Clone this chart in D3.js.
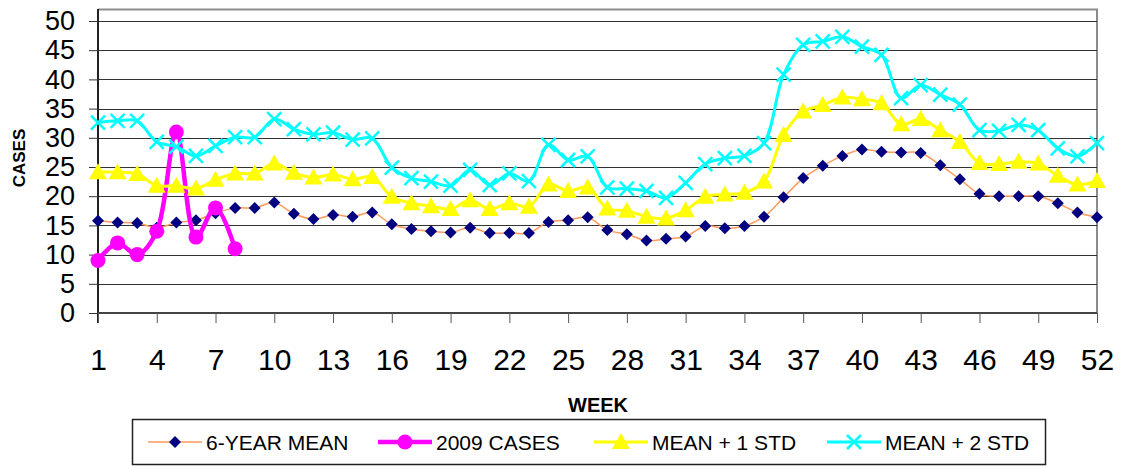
<!DOCTYPE html>
<html>
<head>
<meta charset="utf-8">
<script src="https://cdn.jsdelivr.net/npm/d3@7"></script>
<style>
  html, body { margin: 0; padding: 0; background: #fff; }
  svg text { font-family: "Liberation Sans", Arial, sans-serif; }
</style>
</head>
<body>
<svg id="chart" width="1122" height="466"></svg>
<script>
// weeks 1..52
const weeks = d3.range(1, 53);
const xTickWeeks = [1, 4, 7, 10, 13, 16, 19, 22, 25, 28, 31, 34, 37, 40, 43, 46, 49, 52];
const yTicks = [0, 5, 10, 15, 20, 25, 30, 35, 40, 45, 50];

const sixYearMean = [
    15.8, 15.5, 15.4, 14.6, 15.5, 15.9, 17.1, 18.0, 18.0, 18.9,
    17.0, 16.1, 16.8, 16.5, 17.2, 15.2, 14.4, 14.0, 13.8, 14.6,
    13.7, 13.7, 13.7, 15.6, 15.9, 16.4, 14.2, 13.5, 12.4, 12.7,
    13.1, 14.9, 14.5, 14.9, 16.5, 19.8, 23.1, 25.2, 26.9, 28.0,
    27.6, 27.5, 27.4, 25.3, 22.9, 20.4, 20.0, 20.0, 20.0, 18.8,
    17.2, 16.4
];
const cases2009 = [9, 12, 10, 14, 31, 13, 18, 11];
const meanPlus1 = [
    24.1, 24.1, 23.8, 21.8, 21.8, 21.3, 22.8, 23.9, 23.9, 25.6,
    24.0, 23.2, 23.7, 22.9, 23.3, 19.9, 18.8, 18.3, 17.8, 19.3,
    17.8, 18.8, 18.2, 22.0, 20.9, 21.5, 17.9, 17.5, 16.5, 16.2,
    17.6, 19.9, 20.3, 20.6, 22.5, 30.5, 34.5, 35.6, 36.9, 36.6,
    35.9, 32.3, 33.2, 31.3, 29.3, 25.7, 25.5, 25.9, 25.6, 23.5,
    22.0, 22.6
];
const meanPlus2 = [
    32.6, 32.9, 32.9, 29.3, 28.5, 26.9, 28.6, 30.1, 30.1, 33.2,
    31.5, 30.6, 30.9, 29.7, 29.9, 24.9, 23.1, 22.5, 21.8, 24.5,
    21.9, 23.9, 22.6, 28.8, 26.2, 26.8, 21.5, 21.3, 20.9, 19.7,
    22.3, 25.5, 26.5, 26.9, 29.1, 40.8, 45.9, 46.5, 47.3, 45.6,
    44.2, 36.8, 39.0, 37.4, 35.7, 31.3, 31.2, 32.2, 31.3, 28.2,
    26.8, 29.1
];

const series = [
    { name: "6-YEAR MEAN", values: sixYearMean, line: "#ff9a5c", width: 1.5, marker: "diamond", fill: "#000080" },
    { name: "2009 CASES", values: cases2009, line: "#ff00ff", width: 4.5, marker: "circle", fill: "#ff00ff" },
    { name: "MEAN + 1 STD", values: meanPlus1, line: "#ffff00", width: 3, marker: "triangle", fill: "#ffff00" },
    { name: "MEAN + 2 STD", values: meanPlus2, line: "#00ffff", width: 3, marker: "cross", fill: "#00ffff" }
];

const svg = d3.select("#chart");
const x = d3.scaleLinear().domain([1, 52]).range([98, 1097]);
const y = d3.scaleLinear().domain([0, 50]).range([313, 21]);

// frame (top / right gray)
svg.append("path")
    .attr("d", `M${x(1)},9.5H${x(52)}V${y(0)}`)
    .attr("fill", "none")
    .attr("stroke", "#8c8c8c")
    .attr("stroke-width", 2);

// gridlines
svg.append("g")
    .selectAll("line")
    .data(yTicks.filter(d => d > 0))
    .join("line")
    .attr("x1", x(1))
    .attr("x2", x(52))
    .attr("y1", d => Math.round(y(d)) + 0.5)
    .attr("y2", d => Math.round(y(d)) + 0.5)
    .attr("stroke", "#333")
    .attr("stroke-width", 1);

// y axis
const yAxis = svg.append("g")
    .attr("transform", `translate(${x(1)},0)`)
    .call(d3.axisLeft(y).tickValues(yTicks).tickSize(9).tickPadding(14));
yAxis.select(".domain").attr("d", `M0,9V${y(0) + 10}`).attr("stroke", "#222").attr("stroke-width", 2);
yAxis.selectAll(".tick line").attr("stroke", "#333");
yAxis.selectAll(".tick text")
    .attr("font-size", 27)
    .attr("fill", "#000")
    .style("font-family", '"Liberation Sans", Arial, sans-serif');

// x axis
const xAxis = svg.append("g")
    .attr("transform", `translate(0,${y(0)})`)
    .call(d3.axisBottom(x).tickValues(xTickWeeks).tickFormat(d3.format("d")).tickSize(10).tickPadding(26));
xAxis.select(".domain").attr("d", `M${x(1)},0H${x(52)}`).attr("stroke", "#444").attr("stroke-width", 2);
xAxis.selectAll(".tick line").attr("stroke", "#555");
xAxis.selectAll(".tick text")
    .attr("font-size", 30)
    .attr("fill", "#000")
    .style("font-family", '"Liberation Sans", Arial, sans-serif');

// axis titles
svg.append("text")
    .attr("transform", `translate(25,158) rotate(-90)`)
    .attr("text-anchor", "middle")
    .attr("font-size", 17)
    .attr("font-weight", "bold")
    .text("CASES");
svg.append("text")
    .attr("x", 598)
    .attr("y", 412)
    .attr("text-anchor", "middle")
    .attr("font-size", 20)
    .attr("font-weight", "bold")
    .text("WEEK");

const drawMarker = (sel, s) => {
    if (s.marker === "diamond") {
        sel.append("path").attr("d", "M0,-6L6,0L0,6L-6,0Z").attr("fill", s.fill);
    } else if (s.marker === "circle") {
        sel.append("circle").attr("r", 7.5).attr("fill", s.fill);
    } else if (s.marker === "triangle") {
        sel.append("path").attr("d", "M0,-9L9,7L-9,7Z").attr("fill", s.fill);
    } else {
        sel.append("path").attr("d", "M-7,-7L7,7M7,-7L-7,7").attr("stroke", s.fill).attr("stroke-width", 2.5);
    }
};

const line = d3.line()
    .x((d, i) => x(weeks[i]))
    .y(d => y(d))
    .curve(d3.curveCatmullRom);

series.forEach(s => {
    const g = svg.append("g");
    g.append("path")
        .attr("d", line(s.values))
        .attr("fill", "none")
        .attr("stroke", s.line)
        .attr("stroke-width", s.width);
    g.selectAll(".m")
        .data(s.values)
        .join("g")
        .attr("class", "m")
        .attr("transform", (d, i) => `translate(${x(weeks[i])},${y(d)})`)
        .each(function () { drawMarker(d3.select(this), s); });
});

// legend
const legend = svg.append("g");
legend.append("rect")
    .attr("x", 132.5).attr("y", 419.5)
    .attr("width", 913).attr("height", 45)
    .attr("fill", "#fff")
    .attr("stroke", "#222")
    .attr("stroke-width", 1.5);
const legendX = [148, 378, 594, 827];
series.forEach((s, i) => {
    const g = legend.append("g").attr("transform", `translate(${legendX[i]},442)`);
    g.append("line")
        .attr("x1", 0).attr("x2", 54)
        .attr("stroke", s.line)
        .attr("stroke-width", s.width);
    drawMarker(g.append("g").attr("transform", "translate(27,0)"), s);
    g.append("text")
        .attr("x", 58)
        .attr("y", 7.5)
        .attr("font-size", 21)
        .text(s.name);
});
</script>
</body>
</html>
